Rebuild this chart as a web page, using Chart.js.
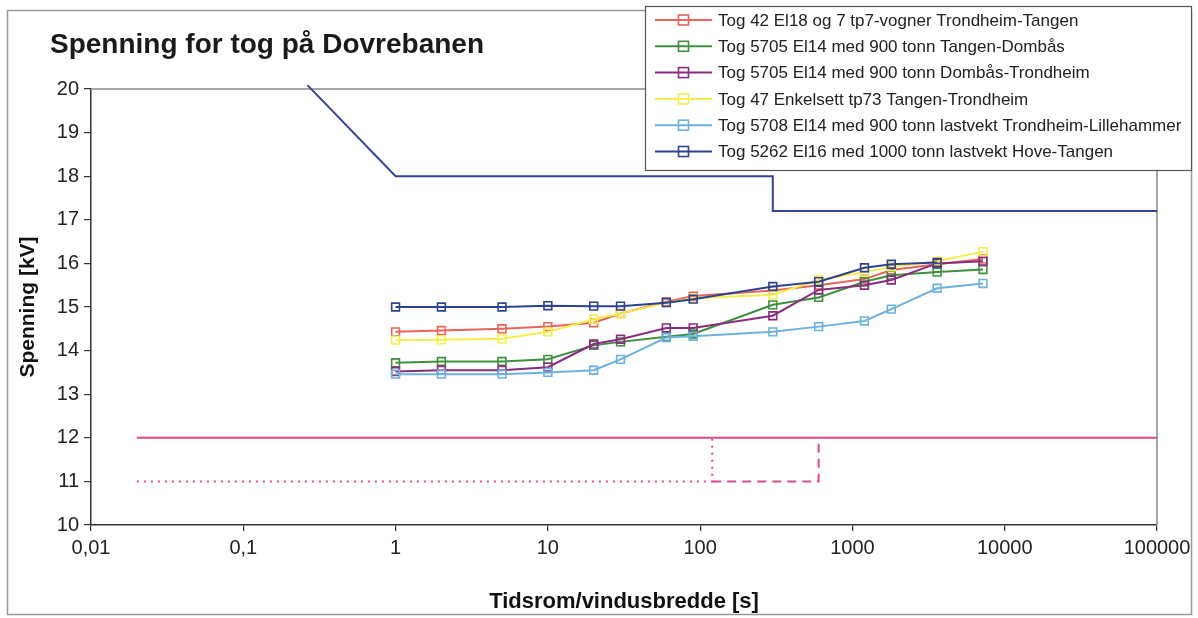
<!DOCTYPE html>
<html>
<head>
<meta charset="utf-8">
<script src="https://cdn.jsdelivr.net/npm/chart.js@4/dist/chart.umd.min.js"></script>
<style>
  html, body { margin: 0; padding: 0; background: #fff; }
  #wrap { position: relative; width: 1198px; height: 618px; }
</style>
</head>
<body>
<div id="wrap"><canvas id="c" width="1198" height="618"></canvas></div>
<script>
// Window widths (s) used for every train run
const windows = [1, 2, 5, 10, 20, 30, 60, 90, 300, 600, 1200, 1800, 3600, 7200];

// Mean voltage (kV) for each window width
const tog42    = [14.43, 14.46, 14.50, 14.55, 14.64, 14.85, 15.12, 15.25, 15.38, 15.50, 15.64, 15.85, 15.98, 16.10];
const tog5705a = [13.72, 13.75, 13.75, 13.80, 14.12, 14.20, 14.32, 14.38, 15.05, 15.22, 15.58, 15.73, 15.80, 15.86];
const tog5705b = [13.52, 13.55, 13.55, 13.62, 14.15, 14.26, 14.52, 14.52, 14.80, 15.39, 15.50, 15.62, 16.00, 16.05];
const tog47    = [14.24, 14.25, 14.27, 14.43, 14.72, 14.85, 15.10, 15.20, 15.28, 15.62, 15.80, 15.92, 16.05, 16.27];
const tog5708  = [13.46, 13.46, 13.46, 13.50, 13.55, 13.80, 14.30, 14.33, 14.43, 14.55, 14.68, 14.95, 15.43, 15.54];
const tog5262  = [15.00, 15.00, 15.00, 15.03, 15.02, 15.02, 15.10, 15.18, 15.47, 15.58, 15.90, 15.98, 16.02];

const seriesLabels = [
  'Tog 42 El18 og 7 tp7-vogner Trondheim-Tangen',
  'Tog 5705 El14 med 900 tonn Tangen-Dombås',
  'Tog 5705 El14 med 900 tonn Dombås-Trondheim',
  'Tog 47 Enkelsett tp73 Tangen-Trondheim',
  'Tog 5708 El14 med 900 tonn lastvekt Trondheim-Lillehammer',
  'Tog 5262 El16 med 1000 tonn lastvekt Hove-Tangen'
];
const seriesValues = [tog42, tog5705a, tog5705b, tog47, tog5708, tog5262];
const seriesColors = ['#e8645c', '#3f8f3f', '#8a2c7e', '#f4ee4c', '#6cb2de', '#2e4390'];

// Upper voltage limit (step curve)
const upperX = [0.264, 1, 300, 300, 100000];
const upperY = [20.09, 18, 18, 17.2, 17.2];

// Lower voltage limits
const lowerX = [0.02, 100000];
const lowerY = [12, 12];
const lowerDotX = [0.02, 120, 120];
const lowerDotY = [11, 11, 12];
const lowerDashX = [120, 600, 600];
const lowerDashY = [11, 11, 12];

// X axis decades
const xTicks = [0.01, 0.1, 1, 10, 100, 1000, 10000, 100000];

const FONT = '"Liberation Sans", Arial, sans-serif';
const zip = (xs, ys) => ys.map((y, i) => ({ x: xs[i], y }));

const limitColor = '#e0488c';
const datasets = [];

seriesValues.forEach((vals, i) => {
  datasets.push({
    label: seriesLabels[i],
    data: zip(windows, vals),
    borderColor: seriesColors[i],
    backgroundColor: 'rgba(0,0,0,0)',
    borderWidth: 2,
    pointStyle: 'rect',
    pointRadius: 5.5,
    pointBorderWidth: 1.6,
    pointBorderColor: seriesColors[i],
    pointBackgroundColor: 'rgba(0,0,0,0)',
    tension: 0,
    order: 10 - i
  });
});

const limitLine = (xs, ys, color, dash) => ({
  data: zip(xs, ys),
  borderColor: color,
  borderWidth: 2,
  borderDash: dash,
  pointRadius: 0,
  tension: 0,
  fill: false,
  clip: false,
  order: 20
});
datasets.push(limitLine(upperX, upperY, '#34449a', []));
datasets.push(limitLine(lowerX, lowerY, limitColor, []));
datasets.push(limitLine(lowerDotX, lowerDotY, limitColor, [2, 5]));
datasets.push(limitLine(lowerDashX, lowerDashY, limitColor, [9, 6]));

// Background, frames, title and legend
const decor = {
  id: 'decor',
  beforeDraw(chart) {
    const c = chart.ctx;
    c.save();
    c.fillStyle = '#fff';
    c.fillRect(0, 0, chart.width, chart.height);
    c.strokeStyle = '#9a9a9a';
    c.lineWidth = 1.5;
    c.strokeRect(7.5, 10.5, 1184, 604);
    c.restore();
  },
  beforeDatasetsDraw(chart) {
    const { left, right, top, bottom } = chart.chartArea;
    const c = chart.ctx;
    c.save();
    c.strokeStyle = '#8a8a8a';
    c.lineWidth = 1.5;
    c.beginPath();
    c.moveTo(left, top);
    c.lineTo(right, top);
    c.lineTo(right, bottom);
    c.stroke();
    c.restore();
  },
  afterDraw(chart) {
    const c = chart.ctx;
    c.save();
    // title
    c.fillStyle = '#1a1a1a';
    c.font = 'bold 28px ' + FONT;
    c.textBaseline = 'alphabetic';
    c.fillText('Spenning for tog på Dovrebanen', 50, 53);

    // legend box
    const lx = 645, ly = 6, lw = 546, lh = 164;
    c.fillStyle = '#fff';
    c.fillRect(lx, ly, lw, lh);
    c.strokeStyle = '#555';
    c.lineWidth = 1.2;
    c.strokeRect(lx + 0.5, ly + 0.5, lw, lh);
    c.font = '17px ' + FONT;
    c.textBaseline = 'middle';
    seriesLabels.forEach((lab, i) => {
      const y = 20 + i * 26.3;
      const col = seriesColors[i];
      c.strokeStyle = col;
      c.lineWidth = 2;
      c.beginPath();
      c.moveTo(655, y);
      c.lineTo(712, y);
      c.stroke();
      c.lineWidth = 1.6;
      c.strokeRect(678.5, y - 5, 10, 10);
      c.fillStyle = '#222';
      c.fillText(lab, 718, y + 1);
    });
    c.restore();
  }
};

new Chart(document.getElementById('c'), {
  type: 'line',
  data: { datasets },
  options: {
    responsive: false,
    animation: false,
    events: [],
    layout: { padding: { top: 89, right: 41, left: 0, bottom: 0 } },
    plugins: {
      legend: { display: false },
      tooltip: { enabled: false },
      title: { display: false }
    },
    scales: {
      x: {
        type: 'logarithmic',
        min: 0.01,
        max: 100000,
        afterBuildTicks(s) { s.ticks = xTicks.map(v => ({ value: v })); },
        afterFit(s) { s.height = 93; },
        ticks: {
          callback: v => String(v).replace('.', ','),
          font: { size: 20, family: FONT },
          color: '#222',
          padding: 5,
          maxRotation: 0,
          autoSkip: false
        },
        grid: { drawOnChartArea: false, tickLength: 6, color: '#333', lineWidth: 1.2 },
        border: { color: '#333', width: 1.5 },
        title: {
          display: true,
          text: 'Tidsrom/vindusbredde [s]',
          font: { size: 22, weight: 'bold', family: FONT },
          color: '#111',
          padding: { top: 0, bottom: 3 }
        }
      },
      y: {
        min: 10,
        max: 20,
        afterFit(s) { s.width = 91; },
        ticks: {
          stepSize: 1,
          font: { size: 20, family: FONT },
          color: '#222',
          padding: 5
        },
        grid: { drawOnChartArea: false, tickLength: 7, color: '#333', lineWidth: 1.2 },
        border: { color: '#333', width: 1.5 },
        title: {
          display: true,
          text: 'Spenning [kV]',
          font: { size: 21, weight: 'bold', family: FONT },
          color: '#111',
          padding: { top: 16, bottom: 0 }
        }
      }
    }
  },
  plugins: [decor]
});
</script>
</body>
</html>
